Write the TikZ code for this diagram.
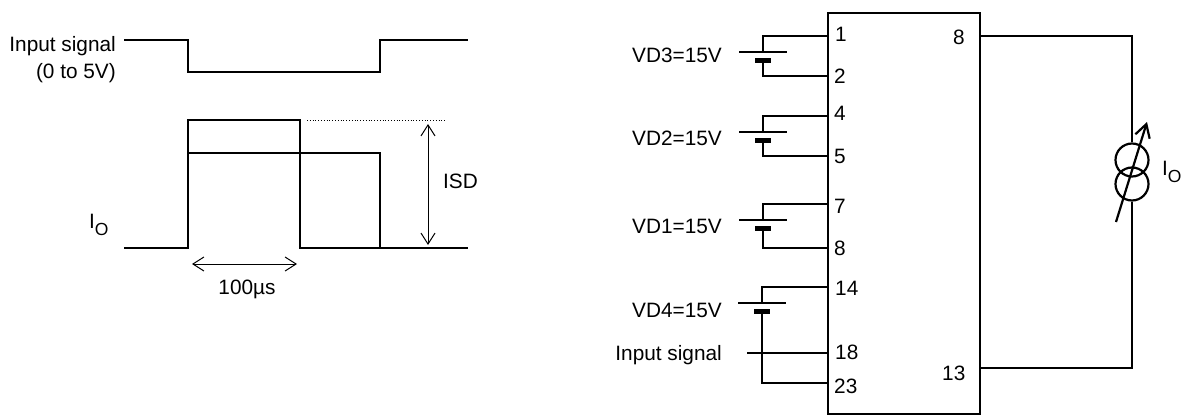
\documentclass[tikz,border=0pt]{standalone}
\usepackage{fontspec}
\setmainfont{Liberation Sans}
\usetikzlibrary{arrows.meta}
\newcommand{\IOlabel}{I\raisebox{-7pt}{\fontsize{17.5}{17.5}\selectfont O}}
\tikzset{
  x=1pt,y=-1pt,
  wire/.style={line width=2.2pt,line join=miter},
  trace/.style={line width=2.6pt,line join=miter},
  thin wire/.style={line width=1.8pt},
  plate/.style={line width=5pt},
  dim/.style={line width=1pt,{Straight Barb[length=11pt,width=14pt,line width=1pt]}-{Straight Barb[length=11pt,width=14pt,line width=1pt]}},
  lab/.style={inner sep=0pt,font=\fontsize{20.8}{20.8}\selectfont},
  rlab/.style={lab,anchor=base east},
  llab/.style={lab,anchor=base west},
  clab/.style={lab,anchor=base},
  ic/.style={draw,wire,minimum width=152pt,minimum height=401pt,inner sep=0pt,anchor=north west},
  src/.style={draw,circle,line width=2.2pt,minimum size=33pt,inner sep=0pt}
}
\begin{document}
\begin{tikzpicture}
\useasboundingbox (0,0) rectangle (1187,415);
% waveforms
\coordinate (a0) at (124,40);\coordinate (a1) at (188,40);\coordinate (a2) at (188,72);
\coordinate (a3) at (380,72);\coordinate (a4) at (380,40);\coordinate (a5) at (468,40);
\draw[trace] (a0)--(a1)--(a2)--(a3)--(a4)--(a5);
\coordinate (b0) at (124,248);\coordinate (b1) at (188,248);\coordinate (b2) at (188,120);
\coordinate (b3) at (300,120);\coordinate (b4) at (300,248);\coordinate (b5) at (468,248);
\draw[trace] (b0)--(b1)--(b2)--(b3)--(b4)--(b5);
\coordinate (c0) at (188,153);\coordinate (c1) at (380,153);\coordinate (c2) at (380,248);
\draw[trace] (c0)--(c1)--(c2);
\coordinate (d0) at (307,120);\coordinate (d1) at (445,120);
\draw[line width=.8pt,dotted] (d0)--(d1);
\coordinate (e0) at (428,124);\coordinate (e1) at (428,245);
\draw[dim] (e0)--(e1);
\coordinate (f0) at (192,264);\coordinate (f1) at (297,264);
\draw[dim] (f0)--(f1);
\node[rlab] (t1) at (116,51) {Input signal};
\node[rlab] (t2) at (116,78) {(0 to 5V)};
\node[llab] (t3) at (443,188) {ISD};
\node[clab] (t4) at (247,294) {100µs};
\node[llab] (t5) at (89,228) {\IOlabel};
% IC
\node[ic] (chip) at (827,12) {};
% VD3
\coordinate (p1) at (827,36);\coordinate (p2) at (827,76);
\coordinate (v3a) at (763,36);\coordinate (v3b) at (763,52);\coordinate (v3c) at (763,60);\coordinate (v3d) at (763,76);
\coordinate (v3l) at (739,52);\coordinate (v3r) at (787,52);\coordinate (v3p) at (755,60);\coordinate (v3q) at (771,60);
\draw[wire] (p1)--(v3a)--(v3b);\draw[wire] (v3c)--(v3d)--(p2);
\draw[thin wire] (v3l)--(v3r);\draw[plate] (v3p)--(v3q);
% VD2
\coordinate (p4) at (827,116);\coordinate (p5) at (827,156);
\coordinate (v2a) at (763,116);\coordinate (v2b) at (763,132);\coordinate (v2c) at (763,140);\coordinate (v2d) at (763,156);
\coordinate (v2l) at (739,132);\coordinate (v2r) at (787,132);\coordinate (v2p) at (755,140);\coordinate (v2q) at (771,140);
\draw[wire] (p4)--(v2a)--(v2b);\draw[wire] (v2c)--(v2d)--(p5);
\draw[thin wire] (v2l)--(v2r);\draw[plate] (v2p)--(v2q);
% VD1
\coordinate (p7) at (827,204);\coordinate (p8) at (827,248);
\coordinate (v1a) at (763,204);\coordinate (v1b) at (763,220);\coordinate (v1c) at (763,228);\coordinate (v1d) at (763,248);
\coordinate (v1l) at (739,220);\coordinate (v1r) at (787,220);\coordinate (v1p) at (755,228);\coordinate (v1q) at (771,228);
\draw[wire] (p7)--(v1a)--(v1b);\draw[wire] (v1c)--(v1d)--(p8);
\draw[thin wire] (v1l)--(v1r);\draw[plate] (v1p)--(v1q);
% VD4
\coordinate (p14) at (827,287);\coordinate (p18) at (827,353);\coordinate (p23) at (827,383);
\coordinate (v4a) at (762,287);\coordinate (v4b) at (762,303);\coordinate (v4c) at (762,311);\coordinate (v4d) at (762,383);
\coordinate (v4l) at (738,303);\coordinate (v4r) at (786,303);\coordinate (v4p) at (754,311);\coordinate (v4q) at (770,311);
\coordinate (in) at (747,353);
\draw[wire] (p14)--(v4a)--(v4b);\draw[wire] (v4c)--(v4d)--(p23);
\draw[thin wire] (v4l)--(v4r);\draw[plate] (v4p)--(v4q);
\draw[wire] (in)--(p18);
% labels
\node[rlab] (l1) at (722,62) {VD3=15V};
\node[rlab] (l2) at (722,145) {VD2=15V};
\node[rlab] (l3) at (722,233) {VD1=15V};
\node[rlab] (l4) at (722,317) {VD4=15V};
\node[rlab] (l5) at (722,360) {Input signal};
\node[llab] (n1) at (835,41) {1};
\node[llab] (n2) at (834,83) {2};
\node[llab] (n4) at (834,120) {4};
\node[llab] (n5) at (834,163) {5};
\node[llab] (n7) at (834,213) {7};
\node[llab] (n8) at (834,255) {8};
\node[llab] (n14) at (835,295) {14};
\node[llab] (n18) at (835,359) {18};
\node[llab] (n23) at (834,393) {23};
\node[llab] (n8r) at (953,45) {8};
\node[llab] (n13) at (942,380) {13};
% load
\coordinate (q8) at (979,36);\coordinate (q13) at (979,368);
\coordinate (k1) at (1132,36);\coordinate (k2) at (1132,368);
\node[src] (s1) at (1132,160) {};
\node[src] (s2) at (1132,184) {};
\draw[wire] (q8)--(k1)--(s1.north);
\draw[wire] (s2.south)--(k2)--(q13);
\coordinate (g0) at (1116,222);\coordinate (g1) at (1147,122);
\draw[line width=2.2pt,-{Straight Barb[length=13pt,width=15pt,line width=2.2pt]}] (g0)--(g1);
\node[llab] (t6) at (1162,175) {\IOlabel};
\end{tikzpicture}
\end{document}
